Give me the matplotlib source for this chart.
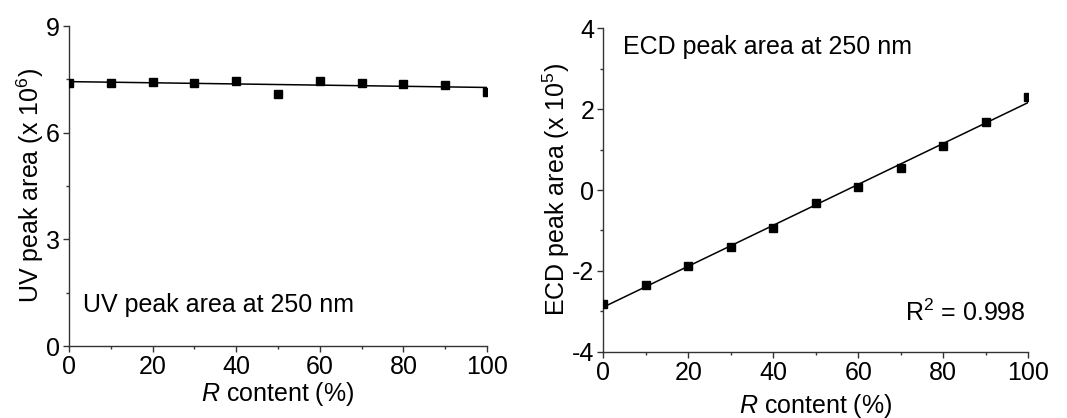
import numpy as np
import matplotlib
matplotlib.use("Agg")
import matplotlib.pyplot as plt
from matplotlib.ticker import MultipleLocator

plt.rcParams['font.family'] = ['Liberation Sans', 'DejaVu Sans']
plt.rcParams['mathtext.fontset'] = 'custom'
plt.rcParams['mathtext.rm'] = 'Liberation Sans'
plt.rcParams['mathtext.it'] = 'Liberation Sans:italic'
plt.rcParams['axes.unicode_minus'] = False

# Data
r_content = [0, 10, 20, 30, 40, 50, 60, 70, 80, 90, 100]
uv_area = [7.40, 7.40, 7.43, 7.41, 7.46, 7.10, 7.45, 7.40, 7.38, 7.33, 7.13]   # x 10^6
ecd_area = [-2.83, -2.36, -1.87, -1.42, -0.94, -0.32, 0.08, 0.55, 1.10, 1.67, 2.31]  # x 10^5

uv_ticks = [0, 3, 6, 9]
ecd_ticks = [-4, -2, 0, 2, 4]
x_ticks = [0, 20, 40, 60, 80, 100]

W, H = 1067, 418
fig = plt.figure(figsize=(W / 100, H / 100), dpi=100)

FS = 18
FL = 18

def style(ax):
    for s in ['top', 'right']:
        ax.spines[s].set_visible(False)
    for s in ['left', 'bottom']:
        ax.spines[s].set_linewidth(1.0)
        ax.spines[s].set_color('#333333')
    ax.tick_params(which='major', direction='out', length=4.5, width=1.0,
                   labelsize=FS, pad=2, color='#333333')
    ax.tick_params(which='minor', direction='out', length=2.5, width=1.0,
                   color='#333333')
    ax.xaxis.set_minor_locator(MultipleLocator(10))
    ax.set_xlim(0, 100)
    ax.set_xticks(x_ticks)

def fit_line(ax, x, y):
    x = np.array(x, dtype=float)
    y = np.array(y, dtype=float)
    m, b = np.polyfit(x, y, 1)
    xx = np.array([0.0, 100.0])
    ax.plot(xx, m * xx + b, color='black', lw=1.1, zorder=2)

# Left panel
ax1 = fig.add_axes([69 / W, 1 - 346 / H, (487 - 69) / W, (346 - 26) / H])
style(ax1)
ax1.set_ylim(0, 9)
ax1.set_yticks(uv_ticks)
ax1.yaxis.set_minor_locator(MultipleLocator(1.5))
fit_line(ax1, r_content, uv_area)
ax1.plot(r_content, uv_area, 's', color='black', ms=5.5, zorder=3)
ax1.set_xlabel(r'$\mathit{R}$ content (%)', fontsize=FL, labelpad=1)
ax1.set_ylabel(r'UV peak area (x 10$^{6}$)', fontsize=FL, labelpad=0)
ax1.text(0.034, 0.128, 'UV peak area at 250 nm', transform=ax1.transAxes,
         fontsize=FS, ha='left', va='center')

# Right panel
ax2 = fig.add_axes([603.3 / W, 1 - 351.7 / H, (1028.3 - 603.3) / W, (351.7 - 28.3) / H])
style(ax2)
ax2.set_ylim(-4, 4)
ax2.set_yticks(ecd_ticks)
ax2.yaxis.set_minor_locator(MultipleLocator(1))
fit_line(ax2, r_content, ecd_area)
ax2.plot(r_content, ecd_area, 's', color='black', ms=5.5, zorder=3)
ax2.set_xlabel(r'$\mathit{R}$ content (%)', fontsize=FL, labelpad=5)
ax2.set_ylabel(r'ECD peak area (x 10$^{5}$)', fontsize=FL, labelpad=0)
ax2.text(0.046, 0.942, 'ECD peak area at 250 nm', transform=ax2.transAxes,
         fontsize=FS, ha='left', va='center')
ax2.text(0.995, 0.12, r'R$^{2}$ = 0.998', transform=ax2.transAxes,
         fontsize=FS, ha='right', va='center')

fig.savefig('out.png', dpi=100)
